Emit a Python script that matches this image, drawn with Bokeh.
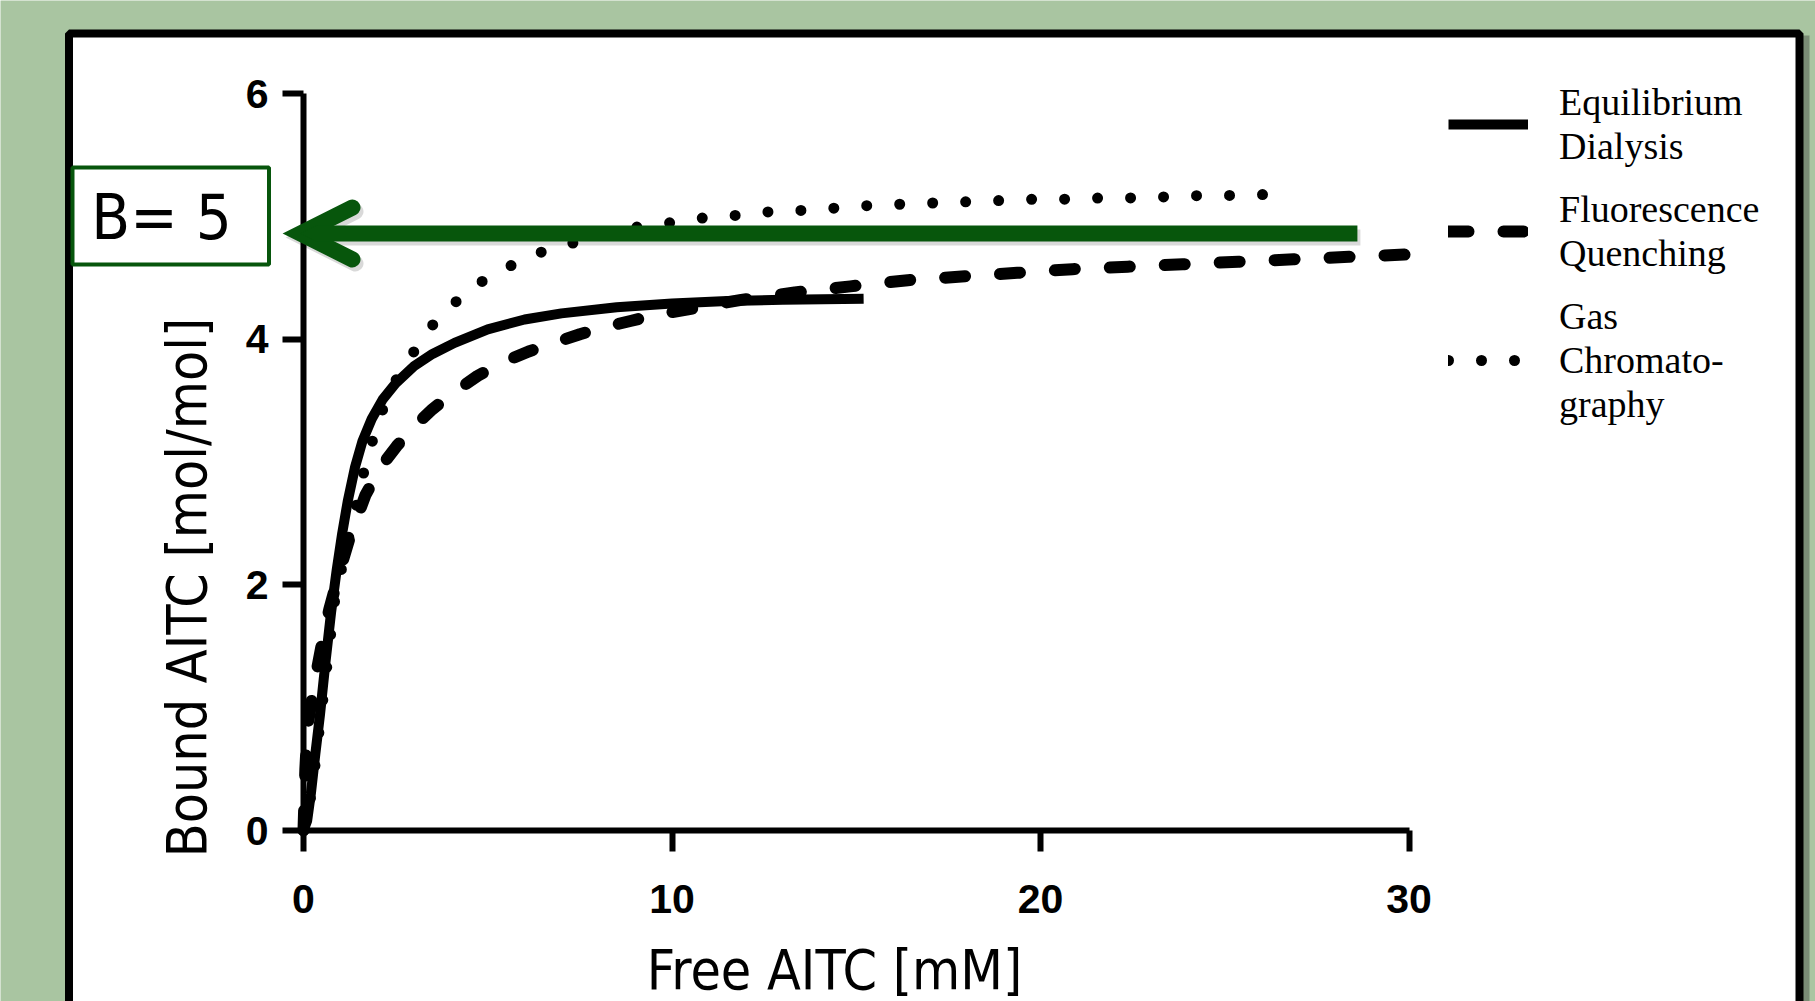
import math
from bokeh.plotting import figure
from bokeh.models import (Range1d, FixedTicker, Label, BoxAnnotation, Arrow, OpenHead,
                          Legend, LegendItem, LinearAxis)
from bokeh.embed import file_html
from bokeh.resources import INLINE

# ---------------- data ----------------
series_names = ["Equilibrium\nDialysis", "Fluorescence\nQuenching", "Gas\nChromato-\ngraphy"]

ed_x = [0.0, 0.1, 0.2, 0.32, 0.45, 0.6, 0.75, 0.9, 1.05, 1.2, 1.4, 1.6, 1.85, 2.15, 2.5,
        3.0, 3.5, 4.1, 5.0, 6.0, 7.0, 8.5, 10.0, 11.5, 13.0, 15.2]
ed_y = [0.0, 0.08, 0.3, 0.62, 0.95, 1.38, 1.78, 2.12, 2.42, 2.68, 2.96, 3.17, 3.35, 3.51, 3.64,
        3.78, 3.88, 3.97, 4.08, 4.16, 4.21, 4.26, 4.29, 4.31, 4.32, 4.33]

fq_x = [0.0, 0.05, 0.11, 0.2, 0.3, 0.41, 0.55, 0.7, 0.95, 1.25, 1.68, 2.1, 2.53, 3.0, 3.5,
        4.1, 4.72, 5.4, 6.11, 6.8, 7.5, 8.2, 8.9, 9.6, 10.4, 11.1, 11.88, 12.6, 13.33, 14.84,
        16.4, 17.86, 19.37, 20.87, 22.37, 23.86, 25.37, 26.87, 28.37, 30.0]
fq_y = [0.0, 0.5, 0.85, 1.02, 1.2, 1.38, 1.6, 1.8, 2.08, 2.38, 2.73, 2.96, 3.13, 3.29, 3.43,
        3.57, 3.70, 3.81, 3.90, 3.97, 4.04, 4.10, 4.15, 4.20, 4.24, 4.28, 4.32, 4.35, 4.38, 4.43,
        4.48, 4.51, 4.54, 4.57, 4.59, 4.61, 4.63, 4.65, 4.67, 4.69]

gc_x = [0.0, 0.15, 0.3, 0.45, 0.6, 0.84, 1.08, 1.32, 1.66, 2.05, 2.53, 3.02, 3.54, 4.19, 4.89,
        5.7, 6.54, 7.4, 8.3, 9.15, 10.03, 10.92, 11.84, 12.72, 13.64, 14.55, 15.42, 16.33, 17.2,
        18.1, 19.03, 19.9, 20.8, 21.7, 22.6, 23.5, 24.4, 25.3, 26.3]
gc_y = [0.0, 0.18, 0.5, 0.88, 1.25, 1.86, 2.2, 2.5, 2.95, 3.36, 3.68, 3.91, 4.13, 4.32, 4.48,
        4.61, 4.72, 4.79, 4.86, 4.92, 4.95, 4.99, 5.01, 5.04, 5.05, 5.07, 5.09, 5.10, 5.11,
        5.12, 5.13, 5.14, 5.14, 5.15, 5.15, 5.16, 5.17, 5.17, 5.18]

x_ticks = [0, 10, 20, 30]
y_ticks = [0, 2, 4, 6]
x_title = "Free AITC [mM]"
y_title = "Bound AITC [mol/mol]"
b_text = "B= 5"
b_level = 4.86          # height of the arrow
arrow_from_x = 28.6     # right end of the arrow shaft (data x)

# ---------------- layout (page pixels) ----------------
W, H = 1815, 1001
X_ZERO_PX, X_END_PX = 303.0, 1408.5     # where x = 0 and x = 30 sit
Y_ZERO_PX, Y_END_PX = 830.0, 93.0       # where y = 0 and y = 6 sit
X_SCALE = (X_END_PX - X_ZERO_PX) / (x_ticks[-1] - x_ticks[0])
Y_SCALE = (Y_ZERO_PX - Y_END_PX) / (y_ticks[-1] - y_ticks[0])

BG = "#a9c5a1"
DKGREEN = "#07560c"
TITLE_FONT = "DejaVu Sans Condensed"


def px2x(px):
    return (px - X_ZERO_PX) / X_SCALE


def px2y(py):
    return (Y_ZERO_PX - py) / Y_SCALE


p = figure(width=W, height=H,
           x_range=Range1d(px2x(0), px2x(W)), y_range=Range1d(px2y(H), px2y(0)),
           output_backend="svg", toolbar_location=None,
           x_axis_location=None, y_axis_location=None,
           min_border=0, min_border_left=0, min_border_right=0,
           min_border_top=0, min_border_bottom=0,
           background_fill_color=BG, border_fill_color=BG, outline_line_color=None)
p.grid.visible = False

xaxis = LinearAxis(fixed_location=0, bounds=(x_ticks[0], x_ticks[-1]),
                   ticker=FixedTicker(ticks=x_ticks), major_label_standoff=33)
yaxis = LinearAxis(fixed_location=0, bounds=(y_ticks[0], y_ticks[-1]),
                   ticker=FixedTicker(ticks=y_ticks), major_label_standoff=14)
for ax in (xaxis, yaxis):
    ax.axis_line_width = 6
    ax.axis_line_color = "black"
    ax.major_tick_line_width = 6
    ax.major_tick_line_color = "black"
    ax.major_tick_out = 21
    ax.major_tick_in = 0
    ax.minor_tick_line_color = None
    ax.major_label_text_font = "Liberation Sans"
    ax.major_label_text_font_size = "41px"
    ax.major_label_text_font_style = "bold"
    ax.major_label_text_color = "black"
p.add_layout(xaxis, "below")
p.add_layout(yaxis, "left")

# panel shadow, then white panel with black rim (behind everything)
p.add_layout(BoxAnnotation(left=px2x(72), right=px2x(1809), top=px2y(35), bottom=px2y(1200),
                           fill_color="#404840", fill_alpha=0.45, line_color=None,
                           level="underlay"))
p.add_layout(BoxAnnotation(left=px2x(68.5), right=px2x(1799), top=px2y(33), bottom=px2y(1200),
                           fill_color="white", fill_alpha=1.0, line_color="black",
                           line_alpha=1.0, line_width=8, level="underlay"))

r_ed = p.line(ed_x, ed_y, line_width=10, line_color="black", line_join="round")
r_fq = p.line(fq_x, fq_y, line_width=12, line_color="black", line_dash="20 35",
              line_cap="round", line_join="round")
r_gc = p.line(gc_x, gc_y, line_width=11, line_color="black", line_dash="0 33",
              line_cap="round", line_join="round")

legend = Legend(items=[LegendItem(label=series_names[0], renderers=[r_ed]),
                       LegendItem(label=series_names[1], renderers=[r_fq]),
                       LegendItem(label=series_names[2], renderers=[r_gc])],
                location=(1448, 575), orientation="vertical",
                label_text_font="Liberation Serif", label_text_font_size="38px",
                label_text_line_height=1.2, label_text_color="black",
                glyph_width=80, glyph_height=40, label_standoff=31, spacing=19,
                padding=0, margin=0, border_line_color=None, background_fill_alpha=0)
p.add_layout(legend)

# axis titles
p.add_layout(Label(x=px2x(834), y=px2y(969), text=x_title, text_font=TITLE_FONT,
                   text_font_size="55px", text_align="center", text_baseline="middle",
                   text_color="black"))
p.add_layout(Label(x=px2x(186), y=px2y(587), text=y_title, text_font=TITLE_FONT,
                   text_font_size="55px", text_align="center", text_baseline="middle",
                   angle=math.pi / 2, text_color="black"))

# arrow shadow + arrow
sx, sy = 3 / X_SCALE, -4 / Y_SCALE
p.add_layout(Arrow(x_start=arrow_from_x + sx, y_start=b_level + sy,
                   x_end=px2x(300) + sx, y_end=b_level + sy,
                   line_color="black", line_alpha=0.15, line_width=16,
                   end=OpenHead(size=52, line_color="black", line_alpha=0.15, line_width=16,
                                line_cap="round", line_join="miter")))
p.add_layout(Arrow(x_start=arrow_from_x, y_start=b_level, x_end=px2x(300), y_end=b_level,
                   line_color=DKGREEN, line_width=16,
                   end=OpenHead(size=52, line_color=DKGREEN, line_width=16,
                                line_cap="round", line_join="miter")))

# B = 5 box
p.add_layout(BoxAnnotation(left=px2x(72), right=px2x(268.5), top=px2y(167), bottom=px2y(264),
                           fill_color="white", fill_alpha=1.0, line_color=DKGREEN,
                           line_alpha=1.0, line_width=4))
p.add_layout(Label(x=px2x(161), y=px2y(216.5), text=b_text, text_font=TITLE_FONT,
                   text_font_size="63px", text_align="center", text_baseline="middle",
                   text_color="black"))

open("out.html", "w").write(file_html(p, INLINE))
